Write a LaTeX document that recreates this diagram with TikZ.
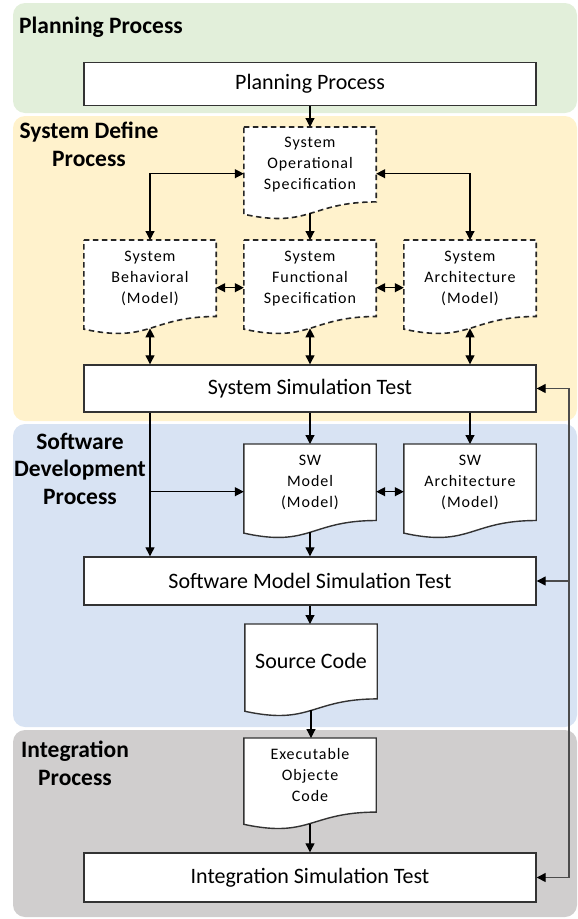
\documentclass[tikz,border=0pt]{standalone}
\usepackage{fontspec}
\setmainfont{Carlito}
\newfontfamily\docfont[LetterSpace=6]{Carlito}
\usetikzlibrary{arrows.meta,calc}
\definecolor{cgreen}{RGB}{226,239,218}
\definecolor{cyellow}{RGB}{255,242,204}
\definecolor{cblue}{RGB}{216,227,243}
\definecolor{cgray}{RGB}{208,206,206}
\tikzset{
  tip/.tip={Triangle[length=9pt,width=9pt]},
  fbtip/.tip={Triangle[length=9pt,width=9pt,color=black]},
  band/.style={rounded corners=12pt},
  boxnode/.style={draw=black!80, line width=1.4pt, fill=white, minimum width=452pt,
    inner sep=0pt, font=\fontsize{22}{26}\selectfont},
  lbl/.style={font=\fontsize{23.5}{27.5}\selectfont\bfseries, align=center, inner sep=0pt},
  docdash/.style={draw=black!85, fill=white, line width=1.6pt, dash pattern=on 5.5pt off 3.5pt},
  docsolid/.style={draw=black!80, fill=white, line width=1.4pt},
  smalltext/.style={font=\docfont\fontsize{16}{21}\selectfont, align=center, inner sep=0pt},
  bigtext/.style={font=\fontsize{22}{26}\selectfont, align=center, inner sep=0pt},
  conn/.style={draw=black, line width=1.2pt},
  fbconn/.style={draw=black!70, line width=1.3pt},
}
\newcommand\docshape[7]{%
  \node[minimum width=132pt, minimum height=#4pt, inner sep=0pt, anchor=north] (#1) at (#2,#3) {};
  \draw[#5] (#1.north west) -- (#1.north east) -- ($(#1.north east)!0.802!(#1.south east)$)
    .. controls ($(#1.north)!0.802!(#1.south)$) and ($(#1.north)!1.088!(#1.south)$) ..
    ($(#1.north west)!0.934!(#1.south west)$) -- cycle;
  \coordinate (#1-b) at ($(#1.north)!0.926!(#1.south)$);
  \node[#6] (#1-t) at ($(#1.north)!0.4!(#1.south)$) {#7};
}
\begin{document}
\begin{tikzpicture}[x=1pt,y=-1pt]
\useasboundingbox (0,0) rectangle (578,919);
% bands
\fill[band, cgreen] (13,3) rectangle (577,113);
\fill[band, cyellow] (13,116) rectangle (577,421);
\fill[band, cblue] (13,424) rectangle (577,727);
\fill[band, cgray] (13,730) rectangle (577,917);
% band labels
\node[lbl, anchor=west] (lplan) at (19,27) {Planning Process};
\node[lbl] (lsys) at (89,144.5) {System Define\\Process};
\node[lbl] (lsw) at (80,468.5) {Software\\Development\\Process};
\node[lbl] (lint) at (75,763.5) {Integration\\Process};
% boxes
\node[boxnode, minimum height=43pt] (plan) at (310,84) {Planning Process};
\node[boxnode, minimum height=47pt] (sst) at (310,388.5) {System Simulation Test};
\node[boxnode, minimum height=48pt] (smst) at (310,581) {Software Model Simulation Test};
\node[boxnode, minimum height=49pt] (ist) at (310,877.5) {Integration Simulation Test};
% documents
\docshape{sos}{310}{127}{93}{docdash}{smalltext}{System\\Operational\\Specification}
\docshape{beh}{150}{240}{95}{docdash}{smalltext}{System\\Behavioral\\(Model)}
\docshape{fun}{310}{240}{95}{docdash}{smalltext}{System\\Functional\\Specification}
\docshape{arc}{470}{240}{95}{docdash}{smalltext}{System\\Architecture\\(Model)}
\docshape{swm}{310}{444}{95}{docsolid}{smalltext}{SW\\Model\\(Model)}
\docshape{swa}{470}{444}{95}{docsolid}{smalltext}{SW\\Architecture\\(Model)}
\docshape{src}{311}{624}{93}{docsolid}{bigtext}{Source Code}
\docshape{eoc}{310}{738}{92}{docsolid}{smalltext}{Executable\\Objecte\\Code}
% connectors
\draw[conn, -tip] (plan.south) -- (sos.north);
\draw[conn, tip-tip] (sos.west) -| (beh.north);
\draw[conn, tip-tip] (sos.east) -| (arc.north);
\draw[conn, -tip] (sos-b) -- (fun.north);
\draw[conn, tip-tip] (beh.east) -- (fun.west);
\draw[conn, tip-tip] (fun.east) -- (arc.west);
\draw[conn, tip-tip] (beh-b) -- (beh-b |- sst.north);
\draw[conn, tip-tip] (fun-b) -- (fun-b |- sst.north);
\draw[conn, tip-tip] (arc-b) -- (arc-b |- sst.north);
\draw[conn, -tip] (sst.south) -- (swm.north);
\draw[conn, -tip] (sst.south -| swa.north) -- (swa.north);
\draw[conn, -tip] (sst.south -| beh.south) -- (smst.north -| beh.south);
\coordinate (br) at (beh.south |- swm.west);
\draw[conn, -tip] (br) -- (swm.west);
\draw[conn, tip-tip] (swm.east) -- (swa.west);
\draw[conn, -tip] (swm-b) -- (swm-b |- smst.north);
\draw[conn, -tip] (smst.south) -- (smst.south |- src.north);
\draw[conn, -tip] (src-b) -- (src-b |- eoc.north);
\draw[conn, -tip] (eoc-b) -- (eoc-b |- ist.north);
\coordinate (fbx) at (569,0);
\draw[fbconn, fbtip-fbtip] (ist.east) -- (ist.east -| fbx) |- (sst.east);
\draw[fbconn, -fbtip] (smst.east -| fbx) -- (smst.east);
\end{tikzpicture}
\end{document}
